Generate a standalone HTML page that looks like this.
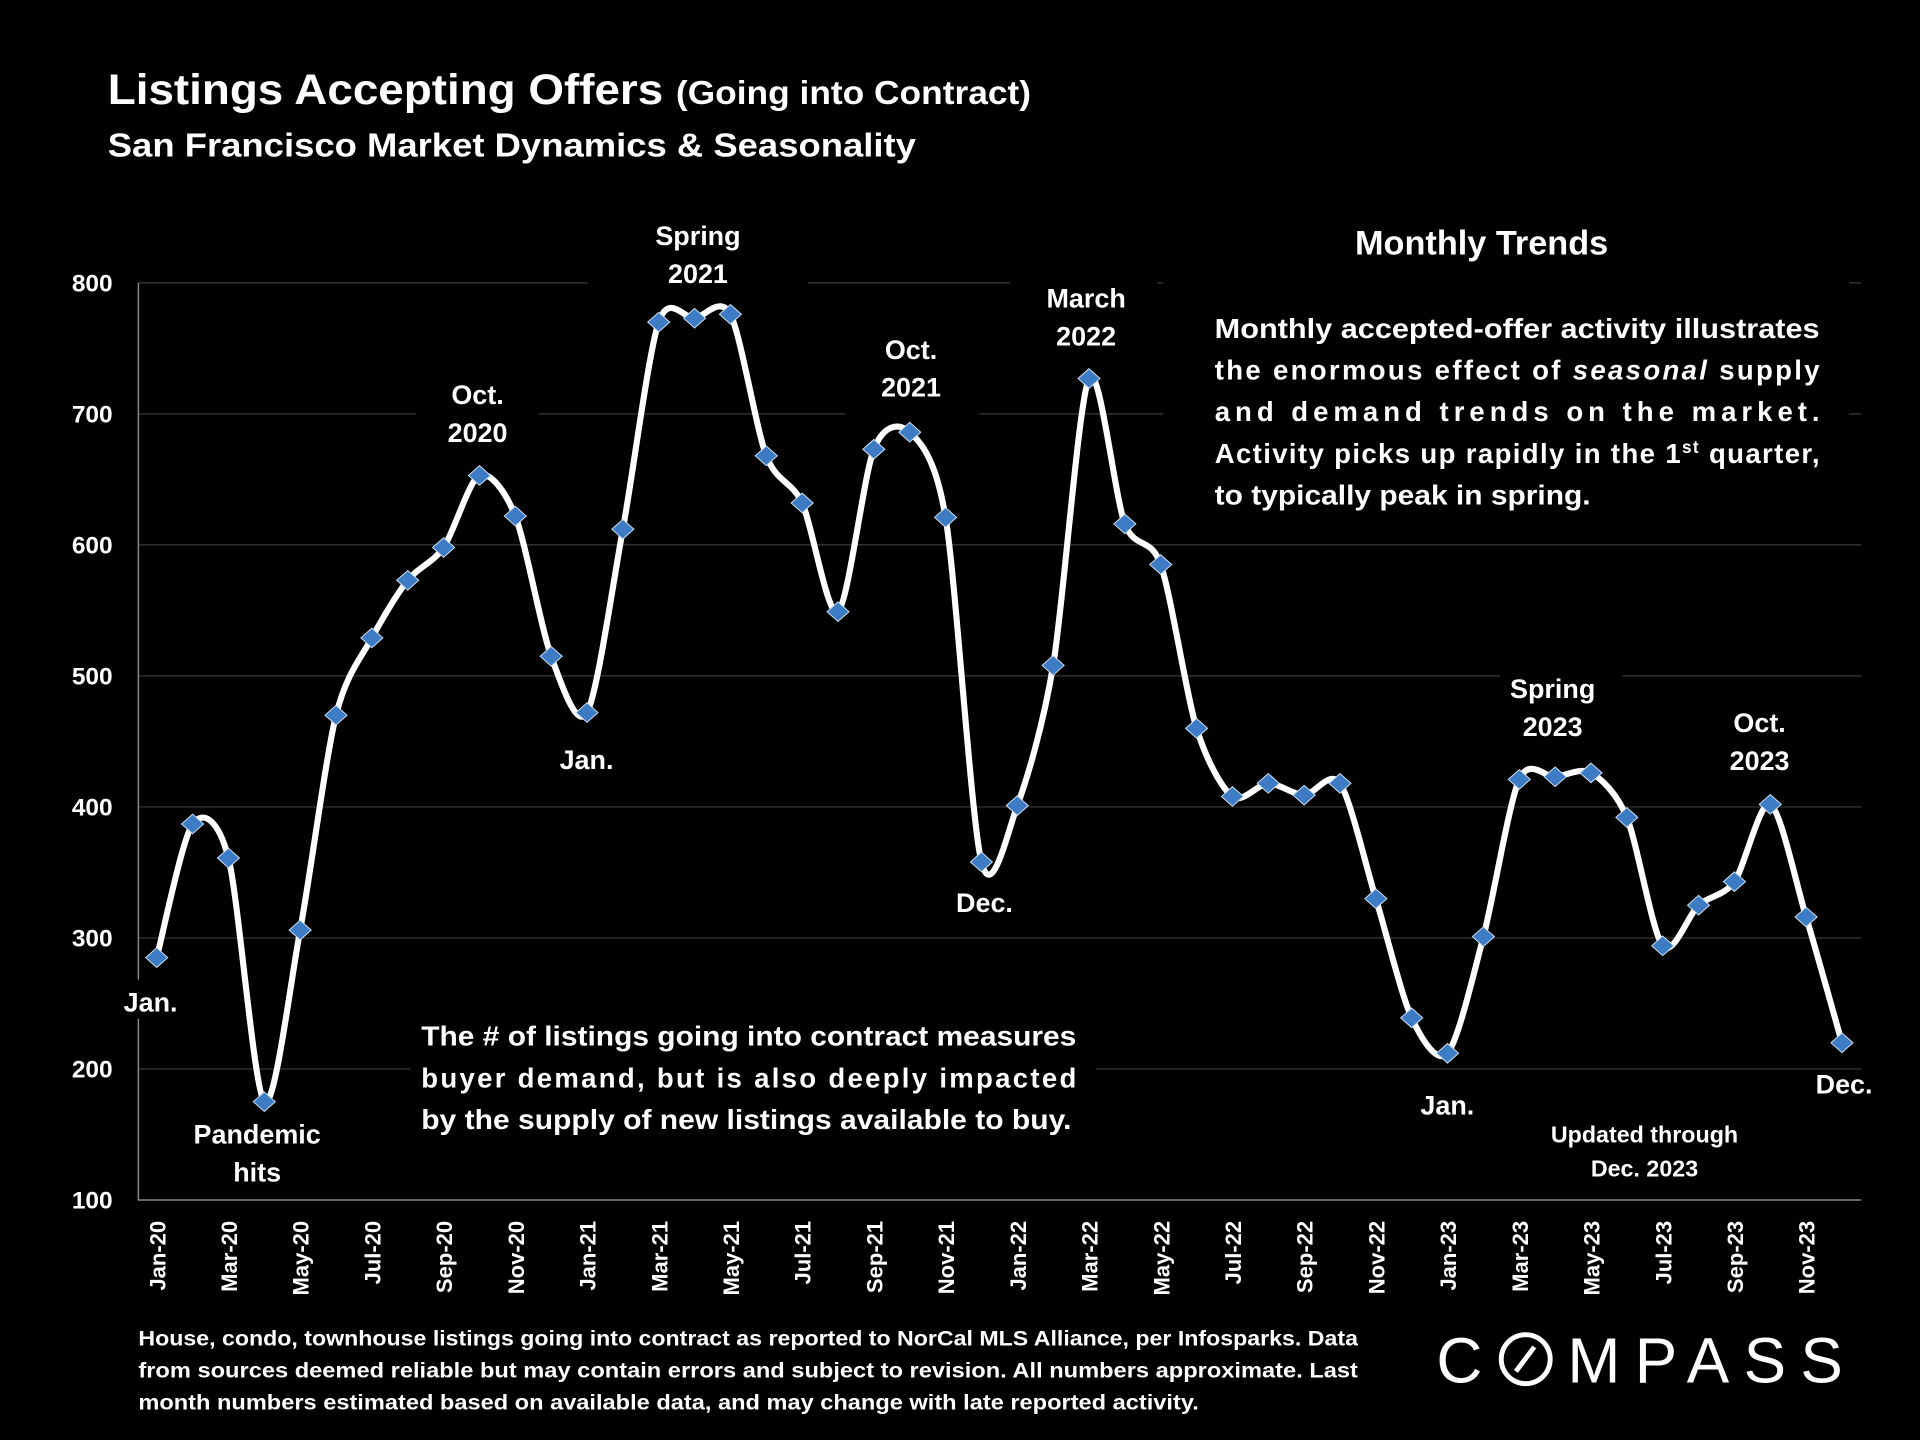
<!DOCTYPE html>
<html><head><meta charset="utf-8"><style>
html,body{margin:0;padding:0;background:#000;}
svg{display:block;}
text{font-family:"Liberation Sans",sans-serif;font-weight:bold;fill:#fff;}
</style></head><body>
<svg id="chart" width="1920" height="1440" viewBox="0 0 1568 1176" xmlns="http://www.w3.org/2000/svg">
<rect width="1568" height="1176" fill="#000"/>
<text x="88" y="85" font-size="35" textLength="754" lengthAdjust="spacingAndGlyphs">Listings Accepting Offers <tspan font-size="27">(Going into Contract)</tspan></text>
<text x="88" y="128" font-size="27" textLength="660" lengthAdjust="spacingAndGlyphs">San Francisco Market Dynamics &amp; Seasonality</text>
<g id="grid"></g>
<g id="yticks"></g>
<g id="xticks"></g>
<g id="boxes">
<rect x="480" y="180" width="180" height="60" fill="#000"/>
<rect x="825" y="230" width="120" height="60" fill="#000"/>
<rect x="690" y="270" width="110" height="70" fill="#000"/>
<rect x="340" y="305" width="100" height="70" fill="#000"/>
<rect x="950" y="230" width="560" height="200" fill="#000"/>
<rect x="335" y="825" width="560" height="110" fill="#000"/>
<rect x="1225" y="548" width="100" height="62" fill="#000"/>
<rect x="1400" y="575" width="80" height="62" fill="#000"/>
<rect x="1250" y="908" width="190" height="62" fill="#000"/>
<rect x="95" y="800" width="55" height="32" fill="#000"/>
</g>
<path id="line" fill="none" stroke="#fff" stroke-width="5"/>
<g id="markers"></g>
<g font-size="22" text-anchor="middle">
<text x="390" y="330">Oct.</text><text x="390" y="361">2020</text>
<text x="570" y="200">Spring</text><text x="570" y="231">2021</text>
<text x="744" y="293">Oct.</text><text x="744" y="324">2021</text>
<text x="887" y="251">March</text><text x="887" y="282">2022</text>
<text x="1268" y="570">Spring</text><text x="1268" y="601">2023</text>
<text x="1437" y="598">Oct.</text><text x="1437" y="629">2023</text>
<text x="123" y="826">Jan.</text>
<text x="210" y="934">Pandemic</text><text x="210" y="965">hits</text>
<text x="479" y="628">Jan.</text>
<text x="804" y="745">Dec.</text>
<text x="1182" y="910">Jan.</text>
<text x="1506" y="893">Dec.</text>
<text x="1343" y="933" font-size="19">Updated through</text>
<text x="1343" y="961" font-size="19">Dec. 2023</text>
<text x="1210" y="208" font-size="28">Monthly Trends</text>
</g>
<g font-size="22.5">
<text x="992" y="276" textLength="494" lengthAdjust="spacingAndGlyphs">Monthly accepted-offer activity illustrates</text>
<text x="992" y="310" textLength="494" lengthAdjust="spacing">the enormous effect of <tspan font-style="italic">seasonal</tspan> supply</text>
<text x="992" y="344" textLength="494" lengthAdjust="spacing">and demand trends on the market.</text>
<text x="992" y="378" textLength="494" lengthAdjust="spacing">Activity picks up rapidly in the 1<tspan font-size="14" dy="-8">st</tspan><tspan dy="8"> quarter,</tspan></text>
<text x="992" y="412" textLength="307" lengthAdjust="spacingAndGlyphs">to typically peak in spring.</text>
</g>
<g font-size="22.5">
<text x="344" y="854" textLength="535" lengthAdjust="spacingAndGlyphs">The # of listings going into contract measures</text>
<text x="344" y="888" textLength="535" lengthAdjust="spacing">buyer demand, but is also deeply impacted</text>
<text x="344" y="922" textLength="531" lengthAdjust="spacingAndGlyphs">by the supply of new listings available to buy.</text>
</g>
<g font-size="17.5">
<text x="113" y="1099" textLength="996" lengthAdjust="spacingAndGlyphs">House, condo, townhouse listings going into contract as reported to NorCal MLS Alliance, per Infosparks. Data</text>
<text x="113" y="1125" textLength="996" lengthAdjust="spacingAndGlyphs">from sources deemed reliable but may contain errors and subject to revision. All numbers approximate. Last</text>
<text x="113" y="1151" textLength="866" lengthAdjust="spacingAndGlyphs">month numbers estimated based on available data, and may change with late reported activity.</text>
</g>
<g>
<text x="1173" y="1129" font-size="52" style="font-weight:normal">C</text>
<circle cx="1246" cy="1110" r="20" fill="none" stroke="#fff" stroke-width="4"/>
<line x1="1238" y1="1120" x2="1253" y2="1100" stroke="#fff" stroke-width="4"/>
<text x="1280" y="1129" font-size="52" style="font-weight:normal" textLength="225" lengthAdjust="spacing">MPASS</text>
</g>
</svg>
<script>
const months = ["Jan-20","Feb-20","Mar-20","Apr-20","May-20","Jun-20","Jul-20","Aug-20","Sep-20","Oct-20","Nov-20","Dec-20","Jan-21","Feb-21","Mar-21","Apr-21","May-21","Jun-21","Jul-21","Aug-21","Sep-21","Oct-21","Nov-21","Dec-21","Jan-22","Feb-22","Mar-22","Apr-22","May-22","Jun-22","Jul-22","Aug-22","Sep-22","Oct-22","Nov-22","Dec-22","Jan-23","Feb-23","Mar-23","Apr-23","May-23","Jun-23","Jul-23","Aug-23","Sep-23","Oct-23","Nov-23","Dec-23"];
const values = [285,387,361,175,306,470,529,573,598,653,622,515,472,612,770,773,776,668,632,549,673,686,621,358,401,508,727,616,585,460,408,418,409,418,330,239,212,301,421,423,426,392,294,325,343,402,316,220];
const yTicks = [100,200,300,400,500,600,700,800];
var SVGNS = "http://www.w3.org/2000/svg";
function xPos(i){ return 128 + i * (1475 - 128) / 46; }
function yPos(v){ return 980 - (v - 100) * (980 - 231) / 700; }
function mk(tag, attrs, parent){ var e = document.createElementNS(SVGNS, tag); for (var k in attrs) e.setAttribute(k, attrs[k]); parent.appendChild(e); return e; }
var gridG = document.getElementById('grid'), ytG = document.getElementById('yticks'), xtG = document.getElementById('xticks');
yTicks.forEach(function(t){
  if (t > 100) {
    var g = mk('line', {x1:113, x2:1520, y1:yPos(t), y2:yPos(t), stroke:'#3a3a3a', 'stroke-width':1}, gridG);
    
    
  }
  var tx = mk('text', {x:92, y:yPos(t)+7, 'font-size':20, 'text-anchor':'end'}, ytG);
  tx.textContent = t;
  
  
});
var ax = mk('path', {d:'M113 231 V980 H1520', stroke:'#888', 'stroke-width':1.2, fill:'none'}, gridG);


months.forEach(function(m, i){
  if (i % 2) return;
  var tx = mk('text', {x:0, y:0, 'font-size':18, 'text-anchor':'end', transform:'translate(' + (xPos(i)+7) + ',997) rotate(-90)'}, xtG);
  tx.textContent = m;
  
  
});
var pts = values.map(function(v, i){ return [xPos(i), yPos(v)]; });
var d = 'M' + pts[0][0] + ',' + pts[0][1];
var T = 7;
for (var i = 0; i < pts.length - 1; i++) {
  var p0 = pts[i-1] || pts[i], p1 = pts[i], p2 = pts[i+1], p3 = pts[i+2] || p2;
  var c1 = [p1[0] + (p2[0]-p0[0])/T, p1[1] + (p2[1]-p0[1])/T];
  var c2 = [p2[0] - (p3[0]-p1[0])/T, p2[1] - (p3[1]-p1[1])/T];
  d += ' C' + c1[0] + ',' + c1[1] + ' ' + c2[0] + ',' + c2[1] + ' ' + p2[0] + ',' + p2[1];
}
document.getElementById('line').setAttribute('d', d);
var mg = document.getElementById('markers');
pts.forEach(function(p){
  var px = p[0], py = p[1];
  var m = mk('polygon', {points: px + ',' + (py-8) + ' ' + (px+9) + ',' + py + ' ' + px + ',' + (py+8) + ' ' + (px-9) + ',' + py, fill:'#3d7cc4', stroke:'#cfe0f2', 'stroke-width':0.8}, mg);
  
  
});
</script>
</body></html>
